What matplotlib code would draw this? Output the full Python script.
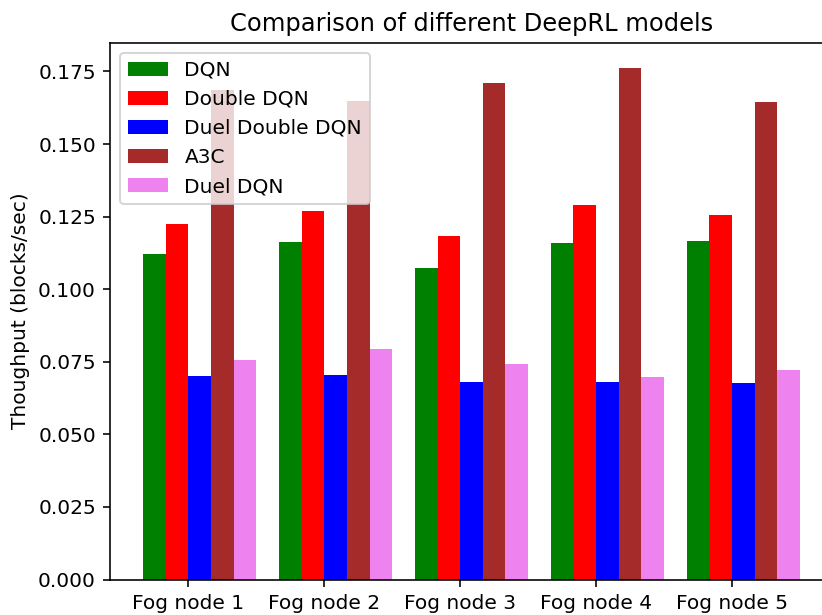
import numpy as np
import matplotlib
matplotlib.use('Agg')
import matplotlib.pyplot as plt

# ==============================
# DATA
# ==============================
nodes = ['Fog node 1', 'Fog node 2', 'Fog node 3', 'Fog node 4', 'Fog node 5']
dqn          = [0.1121, 0.1163, 0.1073, 0.1159, 0.1166]
double_dqn   = [0.1225, 0.1269, 0.1183, 0.1290, 0.1255]
duel_double  = [0.0701, 0.0705, 0.0680, 0.0680, 0.0677]
a3c          = [0.1686, 0.1648, 0.1710, 0.1761, 0.1644]
duel_dqn     = [0.0756, 0.0794, 0.0743, 0.0698, 0.0722]

# ==============================
# PLOT
# ==============================
dpi = 145
fig = plt.figure(figsize=(822 / dpi, 615 / dpi), dpi=dpi)
# axes runs past the right edge, like the cropped original
ax = fig.add_axes([0.1338, 0.0576, 0.8796, 0.873])
ax.spines['right'].set_visible(False)

ind = np.arange(len(nodes))
w = 1 / 6
ax.bar(ind,         dqn,         w, color='green',  label='DQN')
ax.bar(ind + w,     double_dqn,  w, color='red',    label='Double DQN')
ax.bar(ind + 2 * w, duel_double, w, color='blue',   label='Duel Double DQN')
ax.bar(ind + 3 * w, a3c,         w, color='brown',  label='A3C')
ax.bar(ind + 4 * w, duel_dqn,    w, color='violet', label='Duel DQN')

ax.set_xticks(ind + 1.5 * w)
ax.set_xticklabels(nodes)
ax.set_ylabel('Thoughput (blocks/sec)')
ax.set_title('Comparison of different DeepRL models')
ax.legend(loc='upper left')

fig.savefig('out.png', dpi=dpi)
